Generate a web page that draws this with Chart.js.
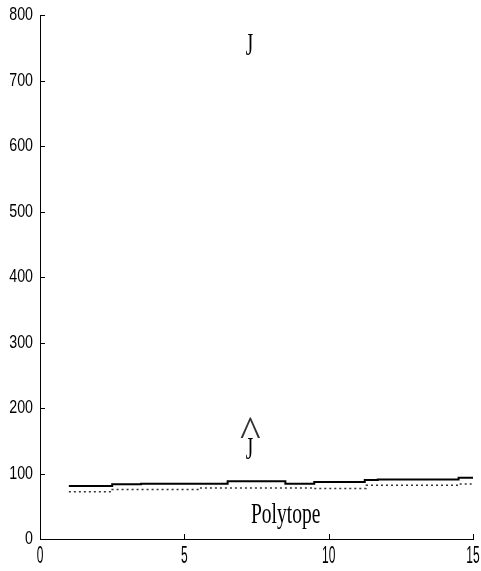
<!DOCTYPE html>
<html>
<head>
<meta charset="utf-8">
<script src="https://cdn.jsdelivr.net/npm/chart.js@4.4.0/dist/chart.umd.min.js"></script>
<style>
  html, body { margin: 0; padding: 0; background: #fff; }
</style>
</head>
<body>
<canvas id="grafica" width="481" height="571"></canvas>
<script>
// J hat (upper, solid) - step breakpoints and values
const jhatX = [1, 2.5, 3.5, 6.5, 8.5, 9.5, 11.25, 11.7, 14.5, 15];
const jhatY = [81, 83.5, 84.5, 88, 84.5, 87, 90, 91, 93.5, 93.5];
// polytope bound (lower, dotted)
const polyX = [1, 2.5, 5.5, 9.5, 11.3, 14.5, 15];
const polyY = [72, 75.5, 78, 77, 82, 84, 84];

const xTicks = [0, 5, 10, 15];
const yTicks = [0, 100, 200, 300, 400, 500, 600, 700, 800];

const toPts = (xs, ys) => xs.map((x, i) => ({ x: x, y: ys[i] }));

// narrow text, the scan is squeezed sideways
function squeezed(c, txt, x, y, font, sx, align) {
  c.save();
  c.translate(x, y);
  c.scale(sx, 1);
  c.font = font;
  c.textAlign = align;
  c.fillText(txt, 0, 0);
  c.restore();
}

const tickMarks = {
  id: 'tickMarks',
  afterDraw(chart) {
    const c = chart.ctx, a = chart.chartArea;
    const sx = chart.scales.x, sy = chart.scales.y;
    c.save();
    c.strokeStyle = '#000';
    c.lineWidth = 1;
    c.beginPath();
    yTicks.forEach(v => {
      const p = Math.round(sy.getPixelForValue(v)) + 0.5;
      c.moveTo(a.left, p); c.lineTo(a.left + 5, p);
    });
    xTicks.forEach(v => {
      const p = Math.round(sx.getPixelForValue(v)) + 0.5;
      c.moveTo(p, a.bottom); c.lineTo(p, a.bottom - 5);
    });
    c.stroke();

    c.fillStyle = '#000';
    c.textBaseline = 'middle';
    yTicks.forEach(v => {
      squeezed(c, String(v), a.left - 7, sy.getPixelForValue(v), '19px "Liberation Sans", Arial, sans-serif', 0.75, 'right');
    });
    xTicks.forEach(v => {
      squeezed(c, String(v), sx.getPixelForValue(v), a.bottom + 17, '24px "Liberation Sans", Arial, sans-serif', 0.5, 'center');
    });

    // annotations
    c.textBaseline = 'alphabetic';
    const serif = '"Liberation Serif", "Times New Roman", serif';
    squeezed(c, 'J', sx.getPixelForValue(7.26), sy.getPixelForValue(739), '32px ' + serif, 0.6, 'center');
    squeezed(c, 'J', sx.getPixelForValue(7.26), sy.getPixelForValue(122), '32px ' + serif, 0.6, 'center');
    c.fillStyle = '#333';
    squeezed(c, '^', sx.getPixelForValue(7.29), sy.getPixelForValue(177) + 23, '44px ' + serif, 1.0, 'center');
    c.fillStyle = '#000';
    squeezed(c, 'Polytope', sx.getPixelForValue(7.31), sy.getPixelForValue(24), '30px ' + serif, 0.65, 'left');
    c.restore();
  }
};

const ctx = document.getElementById('grafica');
new Chart(ctx, {
  type: 'line',
  data: {
    datasets: [{
      label: 'Jhat',
      data: toPts(jhatX, jhatY),
      stepped: true,
      borderColor: '#000',
      borderWidth: 2,
      pointRadius: 0,
      fill: false
    }, {
      label: 'Polytope',
      data: toPts(polyX, polyY),
      stepped: true,
      borderColor: '#333',
      borderWidth: 1.5,
      borderDash: [2, 3],
      pointRadius: 0,
      fill: false
    }]
  },
  options: {
    responsive: false,
    animation: false,
    layout: { padding: { top: 15, right: 8, left: 0, bottom: 0 } },
    plugins: {
      legend: { display: false },
      tooltip: { enabled: false }
    },
    scales: {
      x: {
        type: 'linear',
        min: 0,
        max: 15,
        afterBuildTicks: s => { s.ticks = xTicks.map(v => ({ value: v })); },
        afterFit: s => { s.height = 32; },
        grid: { display: false, drawTicks: false },
        border: { display: true, color: '#000', width: 1 },
        ticks: { display: false }
      },
      y: {
        min: 0,
        max: 800,
        afterBuildTicks: s => { s.ticks = yTicks.map(v => ({ value: v })); },
        afterFit: s => { s.width = 40; },
        grid: { display: false, drawTicks: false },
        border: { display: true, color: '#000', width: 1 },
        ticks: { display: false }
      }
    }
  },
  plugins: [tickMarks]
});
</script>
</body>
</html>
